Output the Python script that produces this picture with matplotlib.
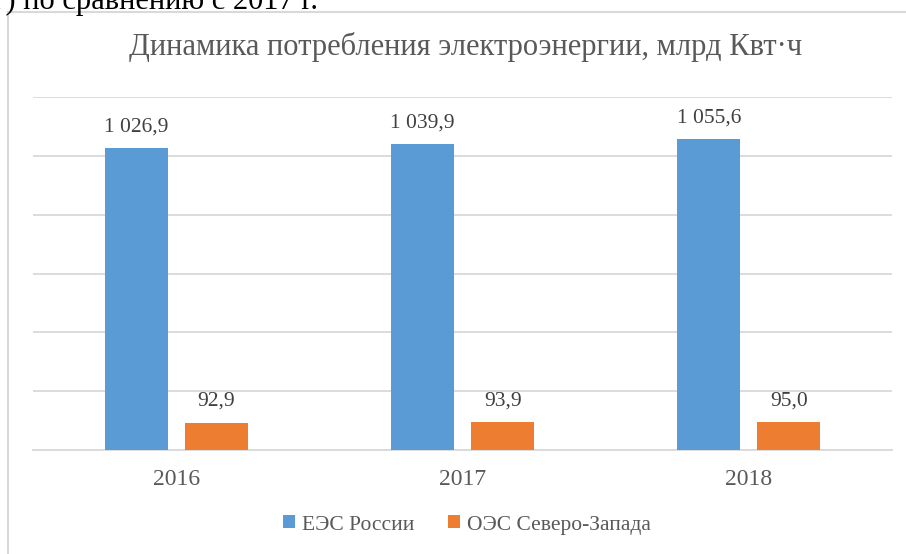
import matplotlib
matplotlib.use("Agg")
import matplotlib.pyplot as plt
import numpy as np

categories = ["2016", "2017", "2018"]
series_names = ["ЕЭС России", "ОЭС Северо-Запада"]
ees = [1026.9, 1039.9, 1055.6]
oes = [92.9, 93.9, 95.0]
ees_labels = ["1 026,9", "1 039,9", "1 055,6"]
oes_labels = ["92,9", "93,9", "95,0"]
title = "Динамика потребления электроэнергии, млрд Квт·ч"
top_text = "г) по сравнению с 2017 г."

W, H = 906, 554
plt.rcParams['font.family'] = ['Liberation Serif', 'DejaVu Serif']
fig = plt.figure(figsize=(W / 100, H / 100), dpi=100)

# chart border (left and top lines)
fig.add_artist(plt.Line2D([7.5 / W, 7.5 / W], [0, 1 - 11.5 / H], color='#d9d9d9', lw=1.5))
fig.add_artist(plt.Line2D([7.5 / W, 1], [1 - 11.5 / H, 1 - 11.5 / H], color='#d9d9d9', lw=1.5))

# cut-off text above the chart
fig.text(-7 / W, 1 - 9 / H, top_text, fontsize=22, color='black', ha='left', va='baseline')

ax = fig.add_axes([33 / W, (H - 450) / H, (892 - 33) / W, (450 - 97) / H])
x = np.arange(len(categories))
bw = 0.22
off = 0.14
c1, c2 = '#5b9bd5', '#ed7d31'
b1 = ax.bar(x - off, ees, bw, color=c1, label=series_names[0], zorder=3)
b2 = ax.bar(x + off, oes, bw, color=c2, label=series_names[1], zorder=3)
for xi, v, s in zip(x - off, ees, ees_labels):
    ax.text(xi, v + 40, s, ha='center', va='bottom', fontsize=15.5, color='#404040')
for xi, v, s in zip(x + off, oes, oes_labels):
    ax.text(xi, v + 40, s, ha='center', va='bottom', fontsize=15.5, color='#404040')

ax.set_xlim(-0.5, 2.5)
ax.set_ylim(0, 1200)
ax.set_yticks(np.arange(0, 1201, 200))
ax.yaxis.grid(True, color='#d9d9d9', lw=1.3, zorder=0)
ax.set_yticklabels([])
ax.tick_params(axis='y', length=0)
ax.set_xticks(x)
ax.set_xticklabels(categories, fontsize=17, color='#595959')
ax.tick_params(axis='x', length=0, pad=14)
for s in ['top', 'right', 'left']:
    ax.spines[s].set_visible(False)
ax.spines['bottom'].set_color('#d9d9d9')
ax.spines['bottom'].set_linewidth(1.3)

fig.text(466 / W, 1 - 47 / H, title, ha='center', va='center', fontsize=22, color='#595959')

leg = fig.legend(handles=[b1, b2], loc='center', bbox_to_anchor=(467 / W, 1 - 525 / H),
                 ncol=2, frameon=False, fontsize=15.5, handlelength=0.55, handleheight=0.55,
                 handletextpad=0.3, columnspacing=1.6)
for t in leg.get_texts():
    t.set_color('#595959')

fig.savefig('out.png', dpi=100)
